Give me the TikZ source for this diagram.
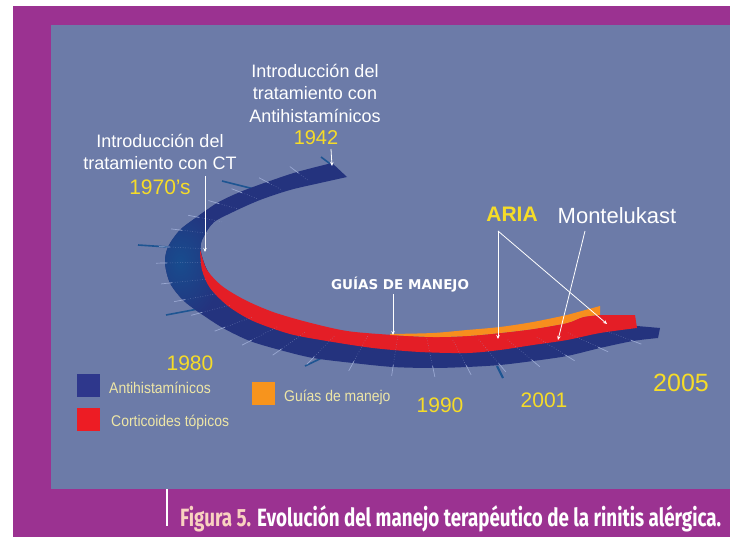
\documentclass[tikz,border=0pt]{standalone}
\usepackage{fontspec}
\setmainfont{Liberation Sans}
\newfontfamily\capfont{Fira Sans}
\newfontfamily\guiafont{DejaVu Sans}
\usetikzlibrary{arrows.meta,calc}
\definecolor{mag}{HTML}{9B3291}
\definecolor{panel}{HTML}{6C7BA8}
\definecolor{navy}{HTML}{24337E}
\definecolor{navylight}{HTML}{184C8E}
\definecolor{ribred}{HTML}{E41E26}
\definecolor{ribor}{HTML}{F78E1E}
\definecolor{yel}{HTML}{F6DC28}
\definecolor{cream}{HTML}{EEE6A6}
\definecolor{legnavy}{HTML}{2E378C}
\definecolor{legred}{HTML}{ED1C24}
\definecolor{legor}{HTML}{F7941D}
\definecolor{peach}{HTML}{F9D2C0}
\definecolor{tickc}{HTML}{9AA8D2}
\definecolor{spikec}{HTML}{1E5592}
\begin{document}
\begin{tikzpicture}[x=1pt,y=-1pt,
  whitetxt/.style={text=white,inner sep=0pt,font=\fontsize{18}{22.5}\selectfont,align=center},
  yeltxt/.style={text=yel,inner sep=0pt,font=\fontsize{21}{24}\selectfont},
  legtxt/.style={text=cream,inner sep=0pt,anchor=west,font=\fontsize{15.5}{17}\selectfont},
  legsq/.style={minimum width=23pt,minimum height=23pt,inner sep=0pt},
  pointer/.style={draw=white,line width=0.8pt,-{Stealth[length=4pt,width=3.5pt]}},
  tick/.style={draw=tickc,line width=0.7pt},
  radial/.style={draw=tickc,line width=0.5pt,dotted,opacity=0.7},
  spike/.style={draw=spikec,line width=1.6pt}]
\useasboundingbox (0,0) rectangle (730,537);
\fill[white] (0,0) rectangle (730,537);
\fill[mag] (13,6) rectangle (730,537);
\fill[panel] (51,25) rectangle (730,489);

\coordinate (C) at (410,258);
% dark spikes
\draw[spike] (138,245) -- (168,247);
\draw[spike] (166,315) -- (198,309);
\draw[spike] (305,366) -- (328,355);
\draw[spike] (222,181) -- (270,193);
\draw[spike] (321,157) -- (333,166);
\draw[spike,line width=2.2pt] (497,366) -- (503,378);

% blue ribbon
\path[fill=navy,save path=\bluepath] plot[smooth] coordinates {(332,163) (297,172) (267,182) (240,192) (217,203) (197,217) (180,230) (168,247) (165,263) (170,283) (183,300) (200,313) (223,328) (250,341) (280,350) (313,358) (353,363) (393,367) (433,368) (467,367) (500,365) (533,361) (567,356) (600,348) (633,341) (658,338)}
  -- (660,328) -- (637,326)
  -- plot[smooth] coordinates {(620,322) (600,320) (567,326) (533,331) (500,336) (467,338) (433,339) (393,337) (347,333) (307,326) (273,316) (240,301) (220,288) (207,270) (201,252) (202,240) (213,223) (233,212) (260,200) (290,190) (320,183) (347,177)} -- cycle;
\begin{scope}
\clip[use path=\bluepath];
\shade[inner color=navylight,outer color=navy] (180,262) ellipse (42 and 62);
\end{scope}

% red ribbon
\fill[ribred] plot[smooth] coordinates {(200,250) (202,270) (210,288) (228,306) (253,321) (290,334) (327,341) (373,348) (420,352) (467,353) (500,350) (533,345) (567,340) (600,333) (637,328)}
  -- (635,315)
  -- plot[smooth] coordinates {(600,315) (583,317) (567,323) (533,329) (500,333) (467,336) (433,337) (393,335) (347,331) (307,322) (273,312) (245,300) (222,286) (207,270) (201,253)} -- cycle;

% orange ribbon
\fill[ribor] plot[smooth] coordinates {(390,335) (433,337) (467,336) (500,333) (533,329) (567,323) (583,317) (600,315)}
  -- (600,306)
  -- plot[smooth] coordinates {(567,315) (533,322) (500,327) (467,330) (433,333) (390,334)} -- cycle;

% ticks and radial lines
\foreach \x/\y/\l in {297/172/14, 267/182/16, 240/192/18, 217/203/22, 197/217/26, 180/230/30, 168/247/34, 165/263/36, 170/283/36, 183/300/34, 200/313/32, 223/328/32, 250/341/32, 280/350/32, 313/358/32, 353/363/32, 393/367/32, 433/368/32, 467/367/32, 500/365/34, 533/361/34, 567/356/36, 600/348/36, 633/341/28}{
  \draw[radial] (\x,\y) -- ($(\x,\y)!\l pt!(C)$);
  \draw[tick] ($(\x,\y)!-9pt!(C)$) -- ($(\x,\y)!2pt!(C)$);
}

% texts
\node[whitetxt] (antih) at (315,93) {Introducción del\\tratamiento con\\Antihistamínicos};
\node[yeltxt,font=\fontsize{20}{24}\selectfont] (y1942) at (316,138) {1942};
\node[whitetxt] (ct) at (160,152) {Introducción del\\tratamiento con CT};
\node[yeltxt] (y1970) at (160,187) {1970's};
\node[text=yel,inner sep=0pt,font=\bfseries\fontsize{21}{24}\selectfont] (aria) at (512,214) {ARIA};
\node[whitetxt,font=\fontsize{22}{24}\selectfont] (monte) at (617,216) {Montelukast};
\node[text=white,inner sep=0pt,font=\guiafont\bfseries\fontsize{13.5}{15}\selectfont] (guias) at (400,285) {GUÍAS DE MANEJO};
\node[yeltxt] (y1980) at (190,363) {1980};
\node[yeltxt] (y1990) at (440,405) {1990};
\node[yeltxt] (y2001) at (544,400) {2001};
\node[yeltxt,font=\fontsize{25}{28}\selectfont] (y2005) at (681,383) {2005};

% pointers
\coordinate (p42a) at (331,149);
\coordinate (p42b) at (332,166);
\coordinate (p70a) at (205,176);
\coordinate (p70b) at (205,252);
\coordinate (pga) at (393,294);
\coordinate (pgb) at (393,335);
\coordinate (paa) at (498,231);
\coordinate (pab) at (498,339);
\coordinate (pac) at (607,324);
\coordinate (pma) at (585,231);
\coordinate (pmb) at (558,340);
\draw[pointer] (p42a) -- (p42b);
\draw[pointer] (p70a) -- (p70b);
\draw[pointer] (pga) -- (pgb);
\draw[pointer] (paa) -- (pab);
\draw[pointer] (paa) -- (pac);
\draw[pointer] (pma) -- (pmb);

% legend
\node[legsq,fill=legnavy] (sq1) at (88.5,385.5) {};
\node[legtxt] (l1) at (109,388) {\scalebox{0.9}[1]{Antihistamínicos}};
\node[legsq,fill=legred] (sq2) at (88.5,419) {};
\node[legtxt] (l2) at (111,422) {\scalebox{0.9}[1]{Corticoides tópicos}};
\node[legsq,fill=legor] (sq3) at (263,393) {};
\node[legtxt] (l3) at (284,397) {\scalebox{0.9}[1]{Guías de manejo}};

% caption
\draw[white,line width=1.6pt] (167,489) -- (167,526);
\node[anchor=base west,inner sep=0pt,text=white] (cap) at (180,526)
  {\resizebox{541pt}{\height}{\capfont\bfseries\fontsize{25}{26}\selectfont\textcolor{peach}{Figura 5.} Evolución del manejo terapéutico de la rinitis alérgica.}};
\end{tikzpicture}
\end{document}
